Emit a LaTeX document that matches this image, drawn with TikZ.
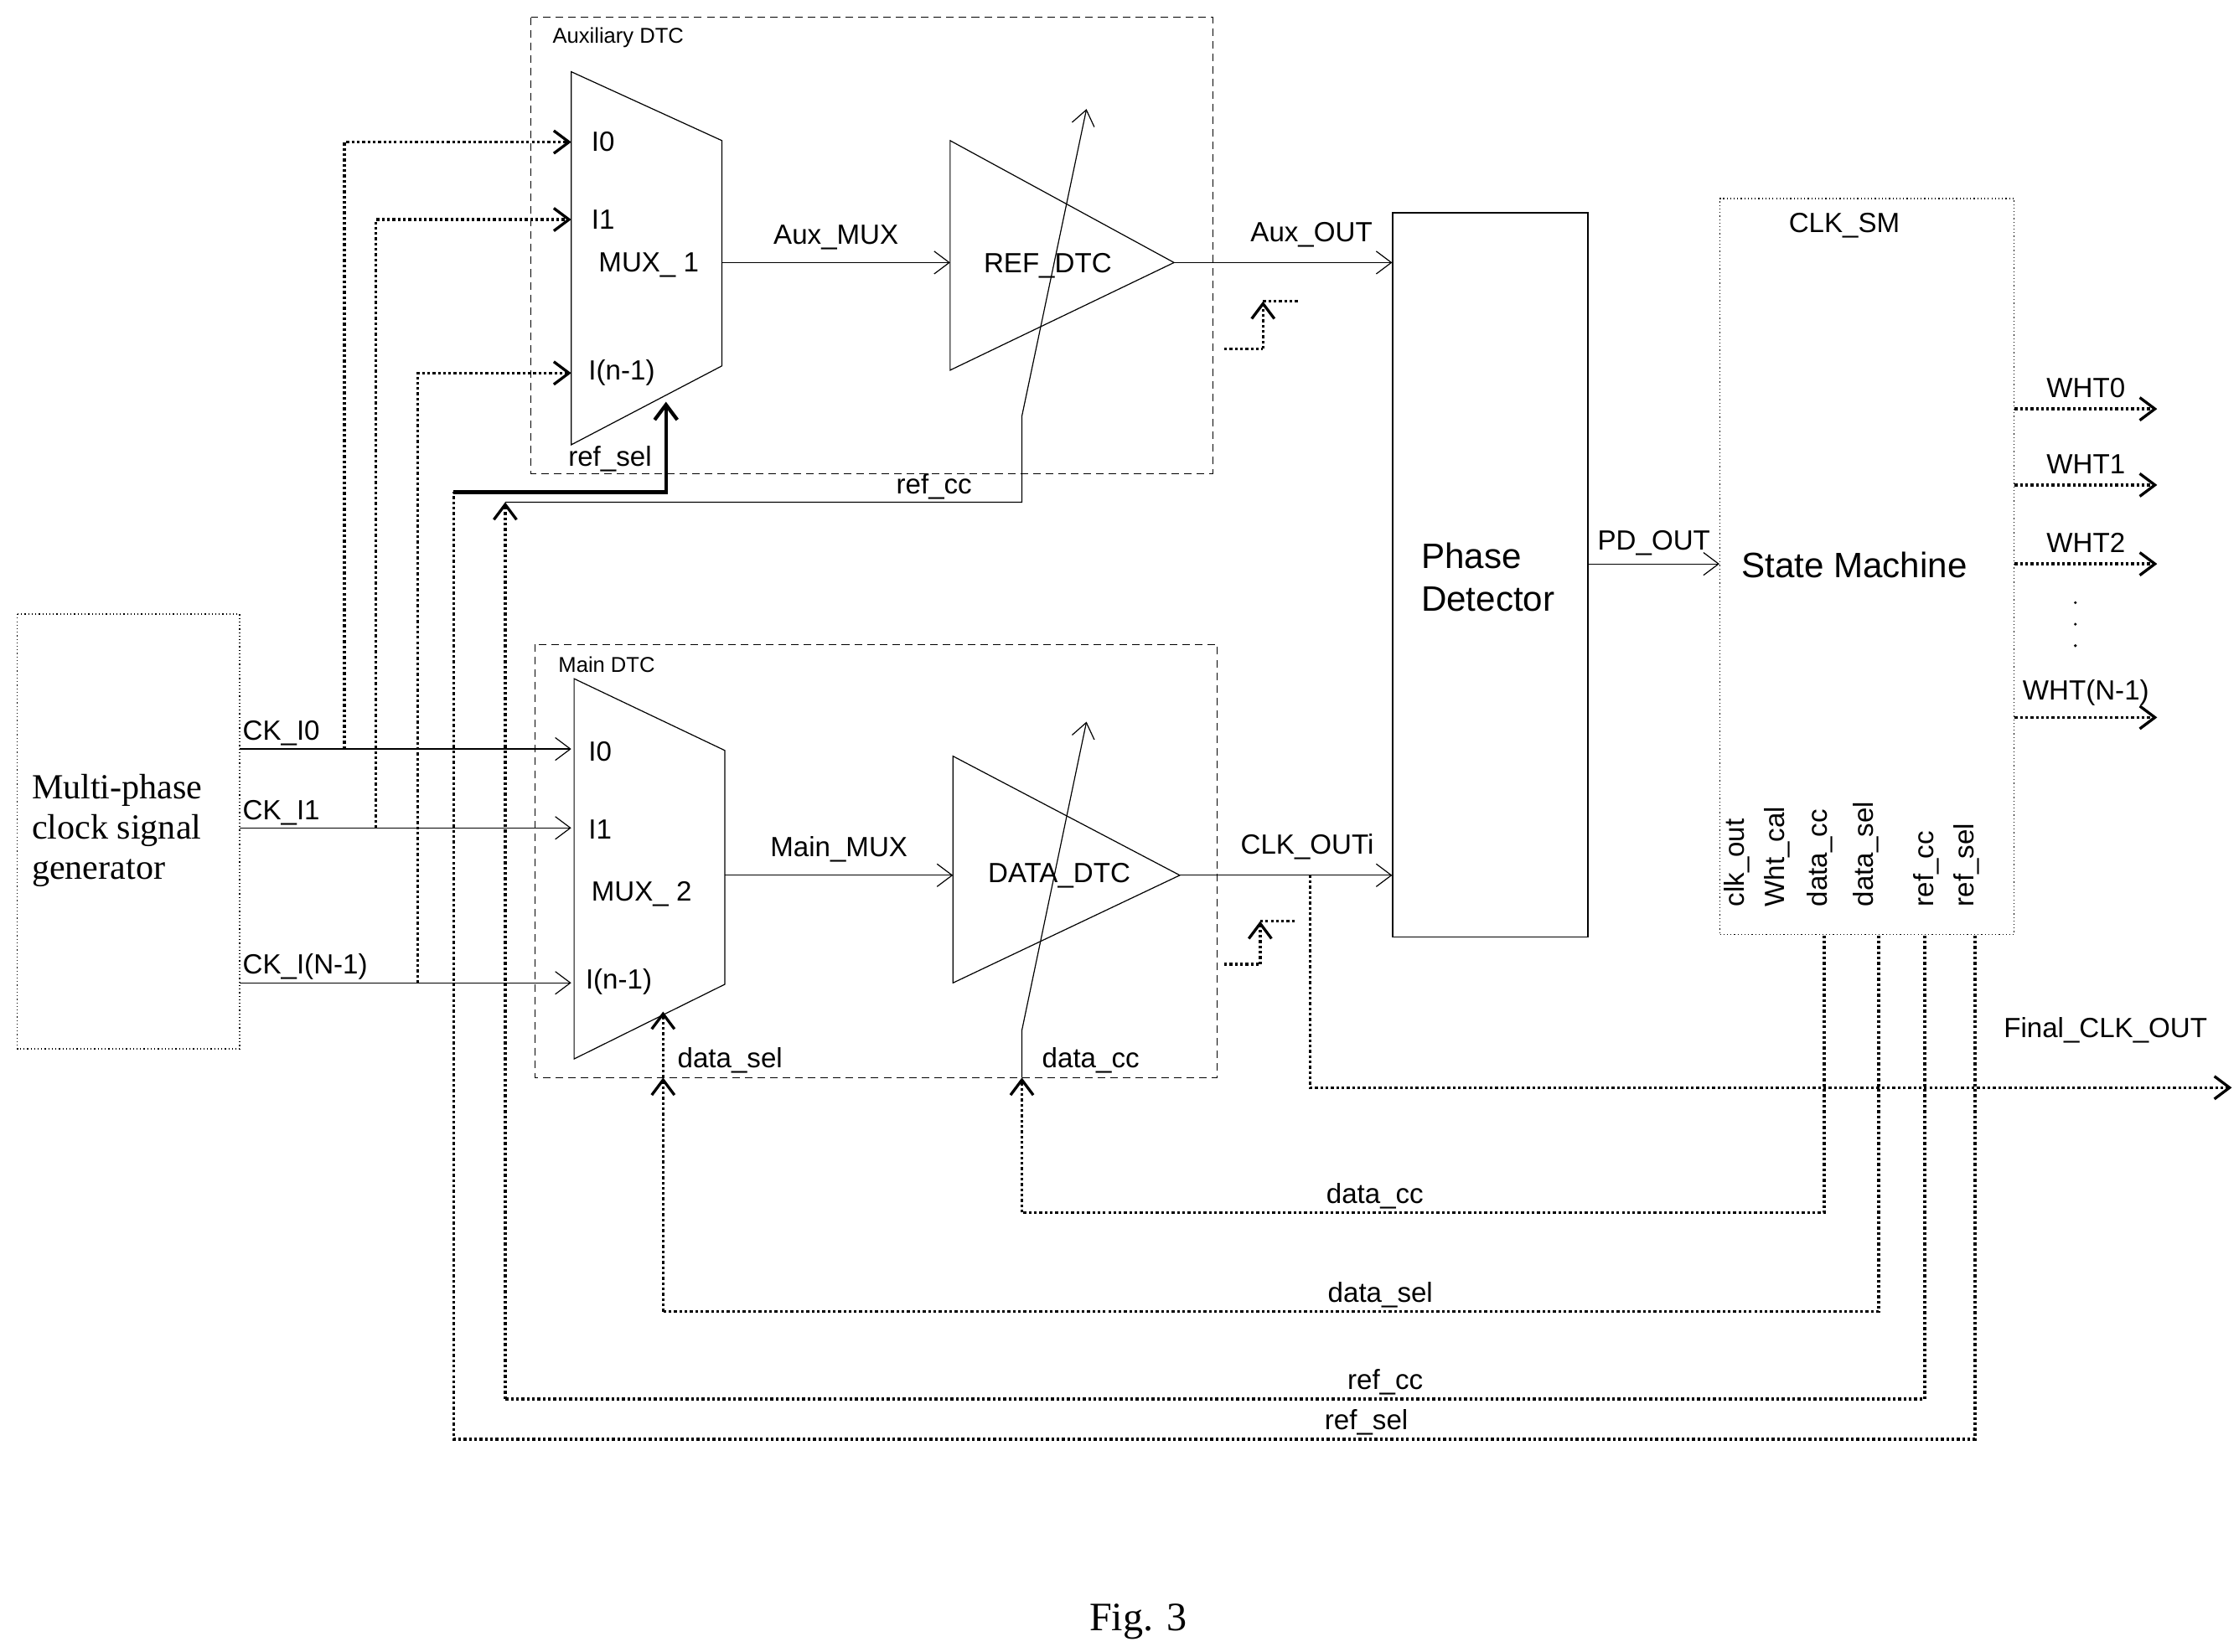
\documentclass[tikz,border=0pt]{standalone}
\usepackage{fontspec}
\setsansfont{Liberation Sans}
\setmainfont{Liberation Serif}
\usetikzlibrary{arrows.meta,positioning}

\begin{document}
\begin{tikzpicture}[x=0.02cm, y=-0.02cm,
    lbl/.style={font=\sffamily\fontsize{11}{13}\selectfont, inner sep=1pt},
    small/.style={font=\sffamily\fontsize{8.5}{10}\selectfont, inner sep=1pt},
    frame/.style={draw, densely dashed, line width=0.3pt},
    blk/.style={draw, line width=0.4pt},
    arrow/.style={-{Straight Barb[length=6pt,width=9pt]}, line width=0.4pt},
    sig/.style={-{Straight Barb[length=6pt,width=9pt]}, line width=1.1pt, densely dotted},
    bus/.style={line width=1.1pt, densely dotted}
]
\useasboundingbox (0,0) rectangle (1560,1151);

% Generator
\draw[densely dotted] (12,428) rectangle (167,731);
\node[font=\rmfamily\fontsize{14}{16}\selectfont, align=left, anchor=west] (gen) at (16,579)
      {Multi-phase\\clock signal\\generator};
\coordinate (genE) at (167,579);

% Auxiliary DTC
\draw[frame] (370,12) rectangle (845,330);
\node[small, anchor=west] (auxlbl) at (383,26) {Auxiliary DTC};
\draw[blk] (398,50) -- (503,98) -- (503,255) -- (398,310) -- cycle;
\coordinate (mux1out) at (503,183);
\coordinate (mux1sel) at (464,280);
\node[lbl, anchor=west] (a0) at (410,99) {I0};
\node[lbl, anchor=west] (a1) at (410,153) {I1};
\node[lbl, anchor=west] (m1) at (415,185) {MUX\_ 1};
\node[lbl, anchor=west] (an) at (408,260) {I(n-1)};
\draw[blk] (662,98) -- (818,183) -- (662,258) -- cycle;
\coordinate (refin) at (662,183);
\coordinate (refout) at (818,183);
\node[lbl] (refdtc) at (730,185) {REF\_DTC};

% Main DTC
\draw[frame] (373,449) rectangle (848,751);
\node[small, anchor=west] (mainlbl) at (387,463) {Main DTC};
\draw[blk] (400,473) -- (505,523) -- (505,686) -- (400,738) -- cycle;
\coordinate (mux2out) at (505,610);
\coordinate (mux2sel) at (462,705);
\node[lbl, anchor=west] (b0) at (408,524) {I0};
\node[lbl, anchor=west] (b1) at (408,578) {I1};
\node[lbl, anchor=west] (m2) at (410,623) {MUX\_ 2};
\node[lbl, anchor=west] (bn) at (406,684) {I(n-1)};
\draw[blk] (664,527) -- (822,610) -- (664,685) -- cycle;
\coordinate (datain) at (664,610);
\coordinate (dataout) at (822,610);
\node[lbl] (datadtc) at (738,610) {DATA\_DTC};

% Phase detector and state machine
\node[blk, minimum width=2.72cm, minimum height=10.1cm, anchor=north west] (pd) at (970,148) {};
\node[font=\sffamily\fontsize{14}{17}\selectfont, align=left, anchor=west] (pdlbl) at (984,402) {Phase\\Detector};
\node[draw, densely dotted, minimum width=4.1cm, minimum height=10.26cm, anchor=north west] (sm) at (1198,138) {};
\node[lbl] (clksm) at (1285,157) {CLK\_SM};
\node[font=\sffamily\fontsize{14}{17}\selectfont] (smlbl) at (1292,394) {State Machine};
\foreach \x/\t in {1210/clk\_out,1238/Wht\_cal,1268/data\_cc,1300/data\_sel,1342/ref\_cc,1370/ref\_sel}
  \node[lbl, rotate=90, anchor=west] at (\x,634) {\t};

% Clock inputs
\draw[arrow] (genE |- 0,522) node[lbl, above right] {CK\_I0} -- (398,522);
\draw[arrow] (genE |- 0,577) node[lbl, above right] {CK\_I1} -- (398,577);
\draw[arrow] (genE |- 0,685) node[lbl, above right] {CK\_I(N-1)} -- (398,685);
\draw[sig] (240,522) -- (240,99) -- (398,99);
\draw[sig] (262,577) -- (262,153) -- (398,153);
\draw[sig] (291,685) -- (291,260) -- (398,260);

% Data paths
\draw[arrow] (mux1out) -- node[lbl, above=4pt] {Aux\_MUX} (refin);
\draw[arrow] (refout) -- node[lbl, above=5pt, pos=0.63] {Aux\_OUT} (pd.west |- refout);
\draw[arrow] (mux2out) -- node[lbl, above=4pt] {Main\_MUX} (datain);
\draw[arrow] (dataout) -- node[lbl, above=5pt, pos=0.6] {CLK\_OUTi} (pd.west |- dataout);
\draw[arrow] (pd.east |- 0,393) -- node[lbl, above=2pt] {PD\_OUT} (sm.west |- 0,393);

% Step marks
\draw[bus] (853,243) -- (880,243);
\draw[sig] (880,243) -- (880,210);
\draw[bus] (880,210) -- (905,210);
\draw[bus] (853,672) -- (878,672);
\draw[sig] (878,672) -- (878,642);
\draw[bus] (878,642) -- (903,642);

% WHT outputs
\foreach \y/\t in {285/WHT0,338/WHT1,393/WHT2,500/WHT(N-1)}
  \draw[sig] (sm.east |- 0,\y) -- node[lbl, above=3pt] {\t} (1503,\y);
\foreach \y in {420,435,450}
  \fill (1446,\y) circle (0.6pt);

% Final output
\draw[sig] (913,610) -- (913,758) -- (1555,758);
\node[lbl] (final) at (1467,718) {Final\_CLK\_OUT};

% Feedback from state machine
\draw[bus] (1271,652) -- (1271,845) -- node[lbl, above, pos=0.56] {data\_cc} (712,845);
\draw[sig] (712,845) -- (712,751);
\draw[arrow] (712,751) -- (712,718) -- (757,503);
\node[lbl, anchor=west] at (724,739) {data\_cc};

\draw[bus] (1309,652) -- (1309,914) -- node[lbl, above, pos=0.41] {data\_sel} (462,914);
\draw[sig] (462,914) -- (462,751);
\draw[sig] (462,751) -- (mux2sel);
\node[lbl, anchor=west] at (470,739) {data\_sel};

\draw[bus] (1341,652) -- (1341,975) -- node[lbl, above, pos=0.38] {ref\_cc} (352,975);
\draw[sig] (352,975) -- (352,350);
\draw[arrow] (352,350) -- node[lbl, above, pos=0.83] {ref\_cc} (712,350) -- (712,290) -- (757,76);

\draw[bus] (1376,652) -- (1376,1003) -- node[lbl, above, pos=0.4] {ref\_sel} (316,1003) -- (316,343);
\draw[-{Straight Barb[length=6pt,width=9pt]}, line width=1.4pt] (316,343) -- (464,343) -- (mux1sel);
\node[lbl] at (425,320) {ref\_sel};

% Caption
\node[font=\rmfamily\fontsize{16}{18}\selectfont] (fig) at (793,1130) {Fig. 3};
\end{tikzpicture}
\end{document}
